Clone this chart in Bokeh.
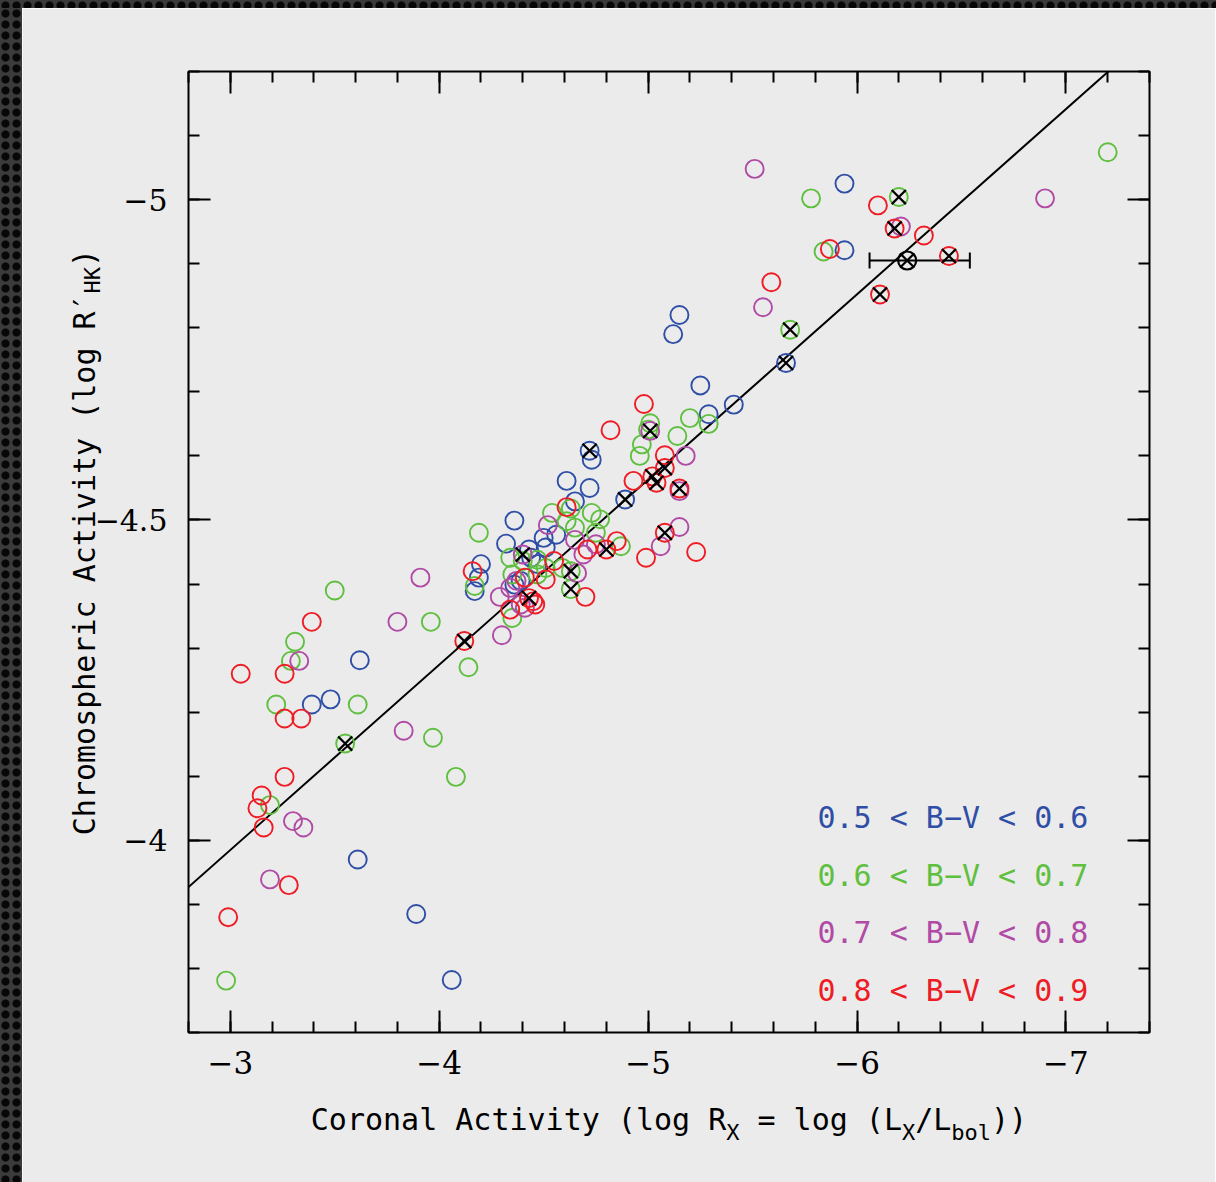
from bokeh.plotting import figure
from bokeh.models import (Range1d, LinearAxis, FixedTicker, Label, Whisker, TeeHead,
                          ColumnDataSource, Div)
from bokeh.layouts import column, row
from bokeh.embed import file_html
from bokeh.resources import INLINE

# ---------------- data ----------------
x_major = [-3, -4, -5, -6, -7]
x_tick_labels = ["\u22123", "\u22124", "\u22125", "\u22126", "\u22127"]
y_major = [-5, -4.5, -4]
y_tick_labels = ["\u22125", "\u22124.5", "\u22124"]

blue_x = [-5.94, -5.94, -5.15, -5.12, -5.66, -5.25, -5.41, -5.29, -4.72, -4.73, -4.89,
          -4.61, -4.72, -4.65, -4.56, -4.50, -4.51, -4.36, -4.32, -4.20, -4.19, -4.17,
          -4.44, -4.43, -4.36, -4.39, -4.47, -3.62, -3.48, -3.39, -3.61, -3.89, -4.06]
blue_y = [-5.025, -4.921, -4.820, -4.790, -4.745, -4.710, -4.680, -4.665, -4.608, -4.594,
          -4.532, -4.561, -4.550, -4.529, -4.477, -4.472, -4.457, -4.499, -4.463, -4.431,
          -4.410, -4.389, -4.441, -4.454, -4.399, -4.405, -4.431, -4.281, -4.220, -4.212,
          -3.970, -3.885, -3.782]

green_x = [-6.20, -5.78, -5.84, -5.68, -7.20, -5.29, -5.20, -5.14, -5.01, -5.00, -4.97,
           -4.96, -4.63, -4.73, -4.77, -4.54, -4.61, -4.65, -4.75, -4.87, -4.19, -4.17,
           -4.34, -4.51, -4.35, -4.47, -4.63, -4.59, -4.63, -4.35, -4.14, -3.96, -3.50,
           -3.31, -3.29, -3.61, -3.22, -3.55, -3.97, -4.08, -3.19, -2.98, -4.47, -4.40]
green_y = [-5.004, -5.002, -4.919, -4.797, -5.074, -4.650, -4.659, -4.631, -4.651, -4.641,
           -4.618, -4.600, -4.518, -4.511, -4.501, -4.511, -4.498, -4.488, -4.480, -4.459,
           -4.480, -4.397, -4.441, -4.425, -4.415, -4.415, -4.420, -4.425, -4.392, -4.347,
           -4.270, -4.341, -4.390, -4.310, -4.280, -4.212, -4.212, -4.151, -4.160, -4.099,
           -4.055, -3.781, -4.438, -4.436]

magenta_x = [-5.51, -6.21, -5.55, -6.90, -5.01, -5.18, -5.15, -5.15, -5.06, -4.52, -4.65,
             -4.75, -4.69, -4.40, -4.66, -4.29, -4.34, -4.37, -4.41, -4.39, -4.30, -3.91,
             -3.80, -3.33, -3.83, -3.30, -3.35, -3.19]
magenta_y = [-5.048, -4.958, -4.832, -5.002, -4.639, -4.600, -4.545, -4.489, -4.459, -4.492,
             -4.469, -4.462, -4.446, -4.446, -4.417, -4.380, -4.394, -4.405, -4.363, -4.368,
             -4.320, -4.410, -4.341, -4.280, -4.171, -4.030, -4.020, -3.939]

red_x = [-6.10, -6.18, -6.32, -5.87, -6.44, -5.59, -6.11, -4.98, -4.82, -5.08, -5.08,
         -5.02, -5.04, -5.15, -4.93, -5.08, -4.99, -5.23, -4.61, -4.85, -4.71, -4.80,
         -4.70, -4.16, -4.55, -4.41, -4.51, -4.34, -4.43, -4.45, -4.46, -4.12, -3.39,
         -3.26, -3.05, -3.26, -3.34, -3.26, -3.15, -3.13, -3.16, -3.28, -2.99]
red_y = [-4.991, -4.955, -4.944, -4.923, -4.912, -4.871, -4.852, -4.681, -4.640, -4.601,
         -4.581, -4.568, -4.558, -4.549, -4.561, -4.480, -4.441, -4.450, -4.520, -4.467,
         -4.454, -4.454, -4.380, -4.420, -4.436, -4.410, -4.407, -4.360, -4.378, -4.373,
         -4.368, -4.311, -4.341, -4.260, -4.260, -4.190, -4.190, -4.099, -4.070, -4.050,
         -4.020, -3.930, -3.880]

cross_x = [-6.20, -6.18, -6.24, -6.44, -6.11, -5.68, -5.66, -5.01, -4.72, -5.08, -5.02,
           -5.04, -5.15, -4.89, -4.80, -5.08, -4.40, -4.63, -4.63, -4.43, -4.12, -3.55]
cross_y = [-5.004, -4.955, -4.905, -4.912, -4.852, -4.797, -4.745, -4.639, -4.608, -4.581,
           -4.568, -4.558, -4.549, -4.532, -4.454, -4.480, -4.446, -4.420, -4.392, -4.378,
           -4.311, -4.151]

sun_x = [-6.24]
sun_y = [-4.905]
sun_x_lo = [-6.06]
sun_x_hi = [-6.54]

fit_x = [-2.8, -7.4]
fit_y = [-3.927, -5.257]

legend_labels = ["0.5 < B\u2212V < 0.6", "0.6 < B\u2212V < 0.7",
                 "0.7 < B\u2212V < 0.8", "0.8 < B\u2212V < 0.9"]

# axis titles: (text, is_subscript)
x_title_parts = [("Coronal Activity (log R", False), ("X", True), (" = log (L", False),
                 ("X", True), ("/L", False), ("bol", True), ("))", False)]
y_title_parts = [("Chromospheric Activity (log R\u2032", False), ("HK", True), (")", False)]

# ---------------- styling ----------------
BG = "#ebebeb"
C_BLUE, C_GREEN, C_MAG, C_RED = "#2f4ea6", "#5fbf3f", "#b04aa5", "#ee1c24"
MONO = "DejaVu Sans Mono"
SERIF = "DejaVu Serif"
X0, X1, Y0, Y1 = -2.8, -7.4, -3.7, -5.2
FW = FH = 961
FRAME_LEFT, FRAME_TOP = 188, 71   # page pixels

p = figure(frame_width=FW, frame_height=FH,
           x_range=Range1d(X0, X1), y_range=Range1d(Y0, Y1),
           output_backend="svg", toolbar_location=None,
           min_border_left=166, min_border_right=66, min_border_top=63, min_border_bottom=150,
           background_fill_color=BG, border_fill_color=BG,
           outline_line_color="black", outline_line_width=2)
p.grid.visible = False

x_minor = [round(-2.8 - 0.2 * i, 2) for i in range(24)]
y_minor = [round(-3.7 - 0.1 * i, 2) for i in range(16)]

def style_axis(ax, ticker, labels, show, font_size, standoff):
    ax.ticker = ticker
    ax.axis_line_color = None
    ax.major_tick_in = 22
    ax.major_tick_out = 0
    ax.minor_tick_in = 11
    ax.minor_tick_out = 0
    ax.major_tick_line_width = 2
    ax.minor_tick_line_width = 2
    ax.major_tick_line_color = "black"
    ax.minor_tick_line_color = "black"
    if show:
        ax.major_label_overrides = labels
        ax.major_label_text_font = SERIF
        ax.major_label_text_font_size = font_size
        ax.major_label_text_color = "black"
        ax.major_label_standoff = standoff
    else:
        ax.major_label_text_color = None
        ax.major_label_text_font_size = "8px"
        ax.major_label_standoff = 0

xlab = {float(v): s for v, s in zip(x_major, x_tick_labels)}
ylab = {float(v): s for v, s in zip(y_major, y_tick_labels)}

style_axis(p.xaxis[0], FixedTicker(ticks=x_major, minor_ticks=x_minor), xlab, True, "31px", 18)
style_axis(p.yaxis[0], FixedTicker(ticks=y_major, minor_ticks=y_minor), ylab, True, "30px", 21)
top_ax = LinearAxis()
right_ax = LinearAxis()
style_axis(top_ax, FixedTicker(ticks=x_major, minor_ticks=x_minor), {}, False, "0px", 0)
style_axis(right_ax, FixedTicker(ticks=y_major, minor_ticks=y_minor), {}, False, "0px", 0)
p.add_layout(top_ax, "above")
p.add_layout(right_ax, "right")

# ---- axis titles built from pieces placed as tick labels of extra axes ----
MAIN, SUB = 30, 22
CW = 0.602  # monospace advance (em)

def px_to_x(px):
    return round(X0 + (px - FRAME_LEFT) / FW * (X1 - X0), 5)

def py_to_y(py):
    return round(Y1 + (py - FRAME_TOP) / FH * (Y0 - Y1), 5)

def title_axes(parts, side, start_px, direction, to_data, std_main, std_sub, vertical):
    pos = start_px
    main_t, sub_t = {}, {}
    for txt, is_sub in parts:
        cw = CW * (SUB if is_sub else MAIN)
        core = txt.strip()
        lead = len(txt) - len(txt.lstrip())
        c = to_data(pos + direction * (lead * cw + len(core) * cw / 2))
        (sub_t if is_sub else main_t)[c] = core
        pos += direction * len(txt) * cw
    for d, size, std in [(main_t, MAIN, std_main), (sub_t, SUB, std_sub)]:
        ax = LinearAxis(ticker=FixedTicker(ticks=list(d.keys()), minor_ticks=[]),
                        major_label_overrides=d)
        ax.axis_line_color = None
        ax.major_tick_line_color = None
        ax.minor_tick_line_color = None
        ax.major_tick_in = ax.major_tick_out = 0
        ax.minor_tick_in = ax.minor_tick_out = 0
        ax.major_label_text_font = MONO
        ax.major_label_text_font_size = f"{size}px"
        ax.major_label_text_color = "black"
        ax.major_label_standoff = std
        if vertical:
            ax.major_label_orientation = "vertical"
        p.add_layout(ax, side)

def total_len(parts):
    return sum(len(t) * CW * (SUB if s else MAIN) for t, s in parts)

# x title: centred under the frame
xt_start = FRAME_LEFT + FW / 2 - total_len(x_title_parts) / 2
title_axes(x_title_parts, "below", xt_start, +1, px_to_x, 25, -20, False)
# y title: reads bottom to top
yt_start = 541.5 + total_len(y_title_parts) / 2
title_axes(y_title_parts, "left", yt_start, -1, py_to_y, -11, -41, True)

# fit line
p.line(fit_x, fit_y, line_color="black", line_width=2)

# circles
MS = 18
LW = 1.9
for xs, ys, col in [(blue_x, blue_y, C_BLUE), (green_x, green_y, C_GREEN),
                    (magenta_x, magenta_y, C_MAG), (red_x, red_y, C_RED)]:
    p.scatter(xs, ys, marker="circle", size=MS, fill_color=None, line_color=col, line_width=LW)

# Sun with error bar
err_src = ColumnDataSource(dict(y=sun_y, lo=sun_x_lo, hi=sun_x_hi))
p.add_layout(Whisker(source=err_src, base="y", lower="lo", upper="hi", dimension="width",
                     line_color="black", line_width=2,
                     lower_head=TeeHead(size=16, line_width=2, line_color="black"),
                     upper_head=TeeHead(size=16, line_width=2, line_color="black")))
p.scatter(sun_x, sun_y, marker="circle", size=MS, fill_color=None, line_color="black", line_width=2.2)

# crosses
p.scatter(cross_x, cross_y, marker="x", size=20, line_color="black", line_width=2.2)

# legend texts
for i, (txt, col) in enumerate(zip(legend_labels, [C_BLUE, C_GREEN, C_MAG, C_RED])):
    p.add_layout(Label(x=629, y=215 - 57.5 * i, x_units="screen", y_units="screen",
                       text=txt, text_color=col, text_font=MONO, text_font_size="30px",
                       text_align="left", text_baseline="middle"))

# dark decorative frame
dark = {"background-color": "#3b3b3b",
        "background-image": "radial-gradient(circle at center, #070707 0px, #070707 3.5px, rgba(0,0,0,0) 4.6px)",
        "background-size": "11px 11px"}
top_bar = Div(text="", width=1216, height=8, styles=dark, margin=0)
left_bar = Div(text="", width=22, height=1174, styles=dark, margin=0)
page = column(top_bar, row(left_bar, p, spacing=0, margin=0), spacing=0, margin=0)

open("out.html", "w").write(file_html(page, INLINE))
